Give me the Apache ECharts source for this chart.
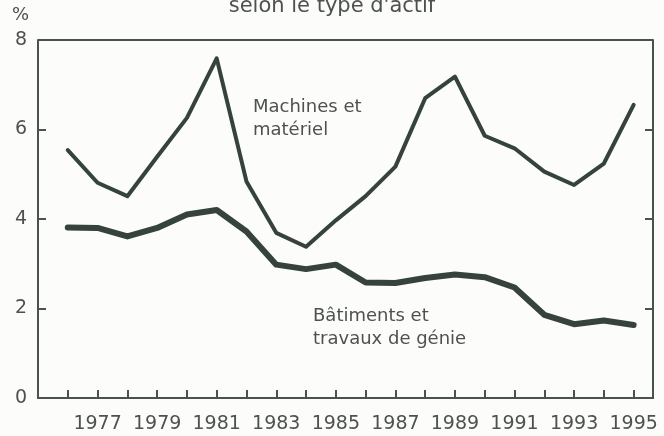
<!DOCTYPE html>
<html>
<head>
<meta charset="utf-8">
<script src="https://cdn.jsdelivr.net/npm/echarts@6/dist/echarts.min.js"></script>
<style>
html, body { margin: 0; padding: 0; background: #fcfcfb; }
#main { width: 664px; height: 436px; }
</style>
</head>
<body>
<div id="main"></div>
<script>
// années 1976 - 1995
var annees = [1976, 1977, 1978, 1979, 1980, 1981, 1982, 1983, 1984, 1985,
              1986, 1987, 1988, 1989, 1990, 1991, 1992, 1993, 1994, 1995];
// Machines et matériel (%)
var machines = [5.54, 4.81, 4.51, 5.39, 6.26, 7.59, 4.84, 3.69, 3.38, 3.97,
                4.51, 5.17, 6.70, 7.18, 5.86, 5.58, 5.06, 4.76, 5.24, 6.55];
// Bâtiments et travaux de génie (%)
var batiments = [3.81, 3.80, 3.61, 3.80, 4.10, 4.20, 3.72, 2.98, 2.88, 2.98,
                 2.58, 2.57, 2.68, 2.76, 2.70, 2.47, 1.86, 1.65, 1.73, 1.63];
var yTicks = [0, 2, 4, 6, 8];

var fonte = 'DejaVu Sans';
var gris = '#4d524f';
var trait = '#36423c';

var myChart = echarts.init(document.getElementById('main'));

function paires(vals) {
    return annees.map(function (a, i) { return [a, vals[i]]; });
}

var option = {
    animation: false,
    backgroundColor: '#fcfcfb',
    grid: { left: 38, right: 11, top: 40, bottom: 38 },
    xAxis: {
        type: 'value',
        min: 1975,
        max: 1995.65,
        interval: 1,
        axisLine: { show: true, lineStyle: { color: '#4a524e', width: 2 } },
        axisTick: { show: true, inside: true, length: 8, lineStyle: { color: '#4a524e', width: 2 } },
        splitLine: { show: false },
        axisLabel: {
            margin: 17,
            fontFamily: fonte, fontSize: 19, color: gris,
            showMinLabel: true, showMaxLabel: false,
            formatter: function (v) {
                return (v >= 1977 && v % 2 === 1) ? String(v) : '';
            }
        }
    },
    yAxis: [{
        type: 'value',
        min: 0, max: 8, interval: 2,
        axisLine: { show: true, lineStyle: { color: '#4a524e', width: 2 } },
        axisTick: { show: true, inside: true, length: 8, lineStyle: { color: '#4a524e', width: 2 } },
        splitLine: { show: false },
        axisLabel: {
            margin: 11, fontFamily: fonte, fontSize: 19, color: gris,
            formatter: function (v) { return yTicks.indexOf(v) >= 0 ? String(v) : ''; }
        }
    }, {
        type: 'value',
        position: 'right',
        min: 0, max: 8, interval: 2,
        axisLine: { show: true, lineStyle: { color: '#4a524e', width: 2 } },
        axisTick: { show: true, inside: true, length: 8, lineStyle: { color: '#4a524e', width: 2 } },
        splitLine: { show: false },
        axisLabel: { show: false }
    }],
    graphic: [
        {
            type: 'text', left: 'center', top: -4,
            style: { text: "selon le type d'actif", fontFamily: fonte, fontSize: 21, fill: gris }
        },
        {
            type: 'text', left: 12, top: 6,
            style: { text: '%', fontFamily: fonte, fontSize: 18, fill: gris }
        },
        {
            type: 'text', left: 253, top: 96,
            style: { text: 'Machines et\nmatériel', fontFamily: fonte, fontSize: 18, lineHeight: 23, fill: gris }
        },
        {
            type: 'text', left: 313, top: 305,
            style: { text: 'Bâtiments et\ntravaux de génie', fontFamily: fonte, fontSize: 18, lineHeight: 23, fill: gris }
        },
        // cadre du haut
        {
            type: 'rect', shape: { x: 38, y: 40, width: 615, height: 0 },
            style: { stroke: '#4a524e', lineWidth: 2 }
        }
    ],
    series: [
        {
            name: 'Machines et matériel',
            type: 'line',
            data: paires(machines),
            symbol: 'none',
            lineStyle: { color: trait, width: 4, cap: 'round', join: 'round' }
        },
        {
            name: 'Bâtiments et travaux de génie',
            type: 'line',
            data: paires(batiments),
            symbol: 'none',
            lineStyle: { color: trait, width: 6, cap: 'round', join: 'round' }
        }
    ]
};

myChart.setOption(option);
</script>
</body>
</html>
